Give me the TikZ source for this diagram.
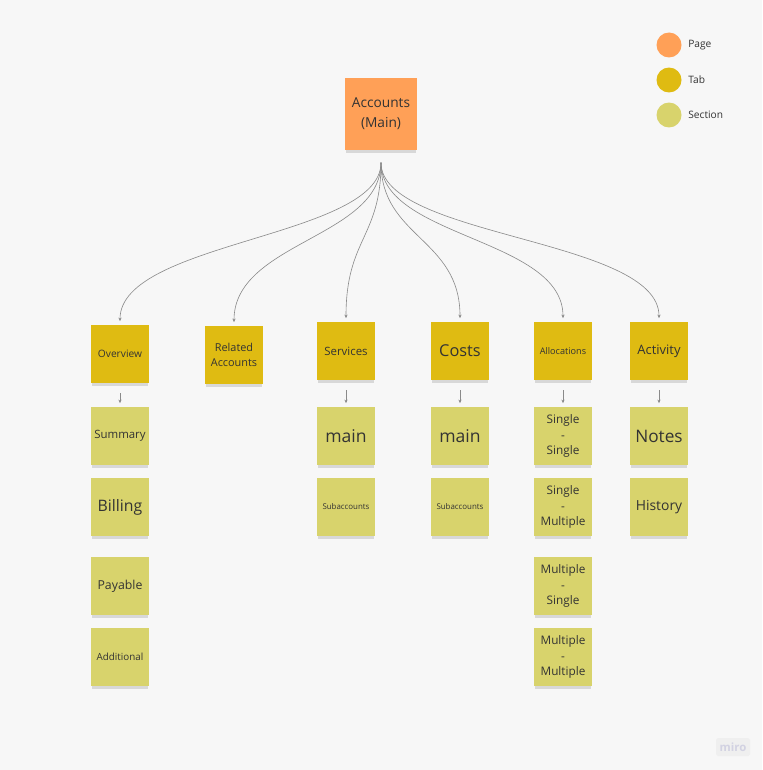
\documentclass[tikz,border=0pt]{standalone}
\usepackage{fontspec}
\setmainfont{Open Sans}
\usetikzlibrary{arrows.meta,shadows}
\definecolor{pagecol}{HTML}{FFA057}
\definecolor{tabcol}{HTML}{DFBB12}
\definecolor{seccol}{HTML}{D8D36C}
\definecolor{bgcol}{HTML}{F7F7F7}
\definecolor{txtcol}{HTML}{333333}
\definecolor{linecol}{HTML}{8A8A8A}
\definecolor{mirobg}{HTML}{EFEFEF}
\definecolor{mirotxt}{HTML}{D2D2E2}
\begin{document}
\begin{tikzpicture}[x=0.02cm,y=-0.02cm,
  fs/.style 2 args={font=\fontsize{#1}{#2}\selectfont},
  note/.style={minimum size=1.16cm,inner sep=0pt,align=center,text=txtcol,fs={6}{9},
    general shadow={fill=black,opacity=0.12,shadow yshift=-2.5pt,shadow scale=0.96}},
  pagenote/.style={note,fill=pagecol,minimum size=1.44cm},
  tabnote/.style={note,fill=tabcol},
  secnote/.style={note,fill=seccol},
  conn/.style={draw=linecol,line width=0.35pt,-{Stealth[length=2pt,width=1.8pt]}}]
\fill[bgcol] (0,0) rectangle (762,770);
% page
\node[pagenote,fs={7.8}{11.4}] (acc) at (381,114) {Accounts\\(Main)};
% tabs
\node[tabnote,fs={5.8}{9}] (ov) at (120,354) {Overview};
\node[tabnote,fs={6.2}{9}] (rel) at (234,355) {Related\\Accounts};
\node[tabnote,fs={6.5}{9}] (srv) at (346,351) {Services};
\node[tabnote,fs={9.3}{12}] (cst) at (460,351) {Costs};
\node[tabnote,fs={5.2}{8}] (alc) at (563,351) {Allocations};
\node[tabnote,fs={7.4}{10}] (act) at (659,351) {Activity};
% sections
\node[secnote,fs={6.5}{9}] (sum) at (120,436) {Summary};
\node[secnote,fs={9}{12}] (bil) at (120,507) {Billing};
\node[secnote,fs={7}{9}] (pay) at (120,586) {Payable};
\node[secnote,fs={5.6}{8}] (add) at (120,657) {Additional};
\node[secnote,fs={10}{12}] (smain) at (346,436) {main};
\node[secnote,fs={4.5}{7}] (ssub) at (346,507) {Subaccounts};
\node[secnote,fs={10}{12}] (cmain) at (460,436) {main};
\node[secnote,fs={4.5}{7}] (csub) at (460,507) {Subaccounts};
\node[secnote,fs={6.7}{9}] (ss) at (563,436) {Single\\-\\Single};
\node[secnote,fs={6.7}{9}] (sm) at (563,507) {Single\\-\\Multiple};
\node[secnote,fs={6.7}{9}] (ms) at (563,586) {Multiple\\-\\Single};
\node[secnote,fs={6.7}{9}] (mm) at (563,657) {Multiple\\-\\Multiple};
\node[secnote,fs={9.8}{12}] (nts) at (659,436) {Notes};
\node[secnote,fs={7.9}{10}] (his) at (659,507) {History};
% connectors
\foreach \t in {ov,rel,srv,cst,alc,act}
  \draw[conn] ([yshift=-7pt]acc.south) to[out=-90,in=90,out distance=1.5cm,in distance=1.6cm] ([yshift=2pt]\t.north);
\foreach \a/\b in {ov/sum,srv/smain,cst/cmain,alc/ss,act/nts}
  \draw[conn] ([yshift=-5.5pt]\a.south) -- ([yshift=2pt]\b.north);
% legend
\foreach \c/\t [count=\i] in {pagecol/Page,tabcol/Tab,seccol/Section} {
  \node[circle,fill=\c,minimum size=0.5cm,inner sep=0pt] (leg\i) at (669,10+35*\i) {};
  \node[anchor=west,inner sep=0pt,text=txtcol,fs={5.8}{7}] (legt\i) at (688,10+35*\i) {\t};
}
\node[fill=mirobg,rounded corners=1pt,text=mirotxt,fs={6.5}{7},minimum width=0.68cm,minimum height=0.36cm,inner sep=0pt] (miro) at (733,747) {\bfseries miro};
\end{tikzpicture}
\end{document}
